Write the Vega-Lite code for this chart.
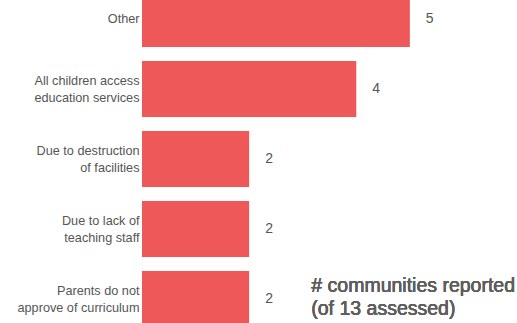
{
  "$schema": "https://vega.github.io/schema/vega-lite/v6.json",
  "width": 375,
  "height": 323,
  "autosize": {"type": "none"},
  "padding": {"left": 142, "top": 0, "right": 0, "bottom": 0},
  "background": "white",
  "config": {"view": {"stroke": null}, "font": "Liberation Sans"},
  "data": {
    "values": [
      {"category": "Other", "value": 5},
      {"category": "All children access|education services", "value": 4},
      {"category": "Due to destruction|of facilities", "value": 2},
      {"category": "Due to lack of|teaching staff", "value": 2},
      {"category": "Parents do not|approve of curriculum", "value": 2}
    ]
  },
  "encoding": {
    "y": {
      "field": "category",
      "type": "nominal",
      "sort": null,
      "scale": {"range": [-16, 334], "paddingInner": 0.2, "paddingOuter": 0.1},
      "axis": {
        "title": null,
        "domain": false,
        "ticks": false,
        "labelPadding": 3,
        "labelFontSize": 12.7,
        "labelColor": "#555555",
        "labelLineHeight": 17,
        "labelExpr": "split(datum.value, '|')",
        "labelOffset": {"condition": {"test": "indexof(datum.value, '|') >= 0", "value": -8.5}, "value": 0},
        "labelLimit": 200
      }
    }
  },
  "layer": [
    {
      "mark": {"type": "bar", "color": "#EE5859", "clip": true},
      "encoding": {
        "x": {"field": "value", "type": "quantitative", "scale": {"domain": [0, 7]}, "axis": null}
      }
    },
    {
      "mark": {"type": "text", "align": "left", "baseline": "middle", "dx": 16, "fontSize": 14, "color": "#555555"},
      "encoding": {
        "x": {"field": "value", "type": "quantitative"},
        "text": {"field": "value", "type": "quantitative"}
      }
    },
    {
      "mark": {"type": "text", "align": "left", "baseline": "alphabetic", "fontSize": 19.5, "color": "#5e5e5e", "lineHeight": 23, "dy": -7},
      "encoding": {
        "x": {"datum": 3.16, "type": "quantitative"},
        "y": {"datum": "Parents do not|approve of curriculum"},
        "text": {"value": ["# communities reported", "(of 13 assessed)"]}
      }
    }
  ]
}
